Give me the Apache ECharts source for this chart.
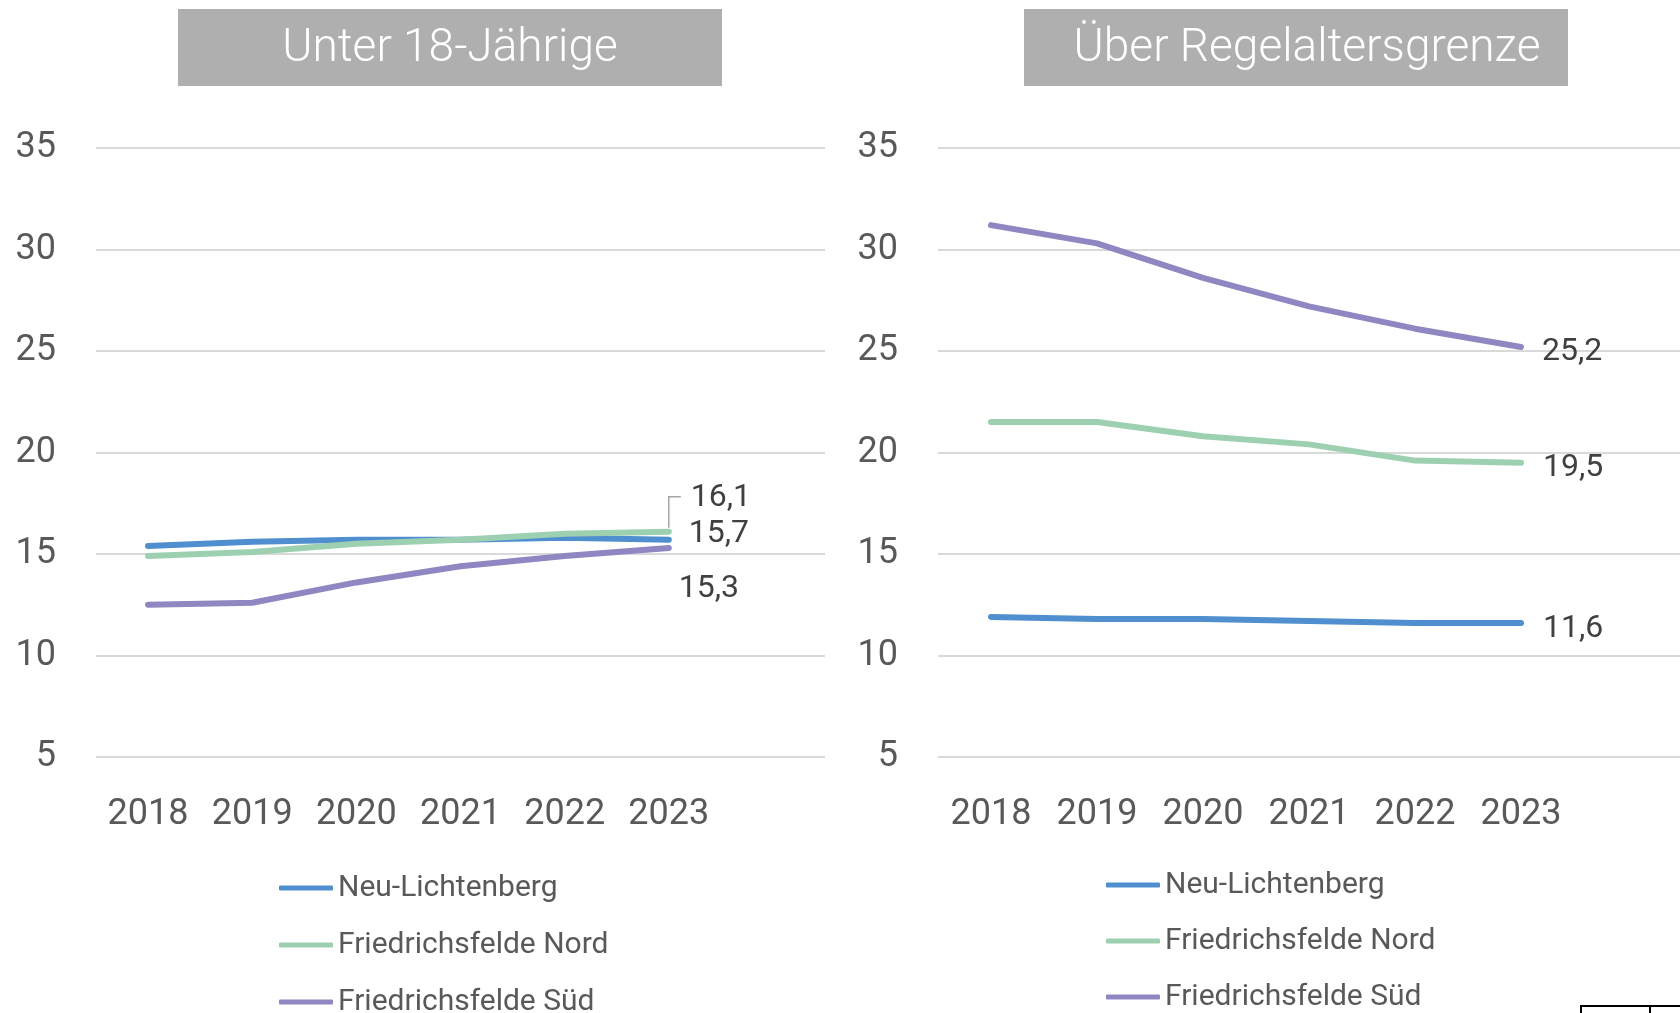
<!DOCTYPE html>
<html>
<head>
<meta charset="utf-8">
<script src="https://cdn.jsdelivr.net/npm/echarts@6/dist/echarts.min.js"></script>
<style>
  html, body { margin: 0; padding: 0; background: #fff; }
  #main { width: 1680px; height: 1013px; }
</style>
</head>
<body>
<div id="main"></div>
<script>
var years = ['2018', '2019', '2020', '2021', '2022', '2023'];
var names = ['Neu-Lichtenberg', 'Friedrichsfelde Nord', 'Friedrichsfelde Süd'];
var colors = ['#4f8fcf', '#9dd0b1', '#8f87c1'];

// Unter 18-Jährige (Anteil in %)
var u18Neu = [15.4, 15.6, 15.7, 15.7, 15.8, 15.7];
var u18Nord = [14.9, 15.1, 15.5, 15.7, 16.0, 16.1];
var u18Sued = [12.5, 12.6, 13.6, 14.4, 14.9, 15.3];

// Über Regelaltersgrenze (Anteil in %)
var aeltNeu = [11.9, 11.8, 11.8, 11.7, 11.6, 11.6];
var aeltNord = [21.5, 21.5, 20.8, 20.4, 19.6, 19.5];
var aeltSued = [31.2, 30.3, 28.6, 27.2, 26.1, 25.2];

var chart = echarts.init(document.getElementById('main'));

var FONT = 'Roboto';
var txt = '#595959';

function fmt(v) {
	return v.toFixed(1).replace('.', ',');
}

// only the last point gets a label
function withEndLabel(vals, offset) {
	var last = vals.length - 1;
	return vals.map(function (v, i) {
		if (i !== last) return v;
		return {
			value: v,
			label: {
				show: true,
				position: 'right',
				distance: 0,
				offset: offset,
				formatter: function (p) { return fmt(p.value); },
				color: '#404040',
				fontFamily: FONT,
				fontSize: 32
			}
		};
	});
}

function lineSeries(idx, name, vals, offset) {
	var c = colors[names.indexOf(name)];
	return {
		type: 'line',
		name: name,
		xAxisIndex: idx,
		yAxisIndex: idx,
		data: withEndLabel(vals, offset),
		symbol: 'circle',
		symbolSize: 0.1,
		showSymbol: true,
		lineStyle: { width: 6, color: c, cap: 'round', join: 'round' },
		itemStyle: { color: c },
		emphasis: { disabled: true },
		z: 3
	};
}

function xAx(idx) {
	return {
		type: 'category',
		gridIndex: idx,
		data: years.concat(['']),
		boundaryGap: true,
		axisLine: { show: false },
		axisTick: { show: false },
		axisLabel: { color: txt, fontFamily: FONT, fontSize: 36, margin: 40, interval: 0 }
	};
}

function yAx(idx) {
	return {
		type: 'value',
		gridIndex: idx,
		min: 5,
		max: 35,
		interval: 5,
		axisLine: { show: false },
		axisTick: { show: false },
		splitLine: { lineStyle: { color: '#d9d9d9', width: 2 } },
		axisLabel: { color: txt, fontFamily: FONT, fontSize: 36, margin: 40, padding: [6, 0, 0, 0] }
	};
}

// one legend entry per component so the list can run past the bottom edge
function legendItem(name, left, top) {
	return {
		data: [name],
		left: left,
		top: top,
		icon: 'roundRect',
		itemWidth: 54,
		itemHeight: 5,
		selectedMode: false,
		padding: 0,
		textStyle: { color: txt, fontFamily: FONT, fontSize: 30, lineHeight: 36 }
	};
}

function legends(left, top, step) {
	return names.map(function (n, i) { return legendItem(n, left, top + i * step); });
}

function titleBox(id, x, text, tx) {
	return {
		type: 'group',
		id: id,
		children: [
			{ type: 'rect', shape: { x: x, y: 9, width: 544, height: 77 }, style: { fill: '#afafaf' } },
			{ type: 'text', style: { text: text, x: tx, y: 49, align: 'center', verticalAlign: 'middle',
				fill: '#ffffff', font: '300 46px ' + FONT } }
		]
	};
}

var option = {
	animation: false,
	grid: [
		{ left: 96, top: 148, width: 729, height: 609 },
		{ left: 938, top: 148, right: 0, height: 609 }
	],
	xAxis: [xAx(0), xAx(1)],
	yAxis: [yAx(0), yAx(1)],
	legend: legends(279, 870, 57).concat(legends(1106, 867, 56)),
	series: [
		lineSeries(0, names[0], u18Neu, [20, -6]),
		lineSeries(0, names[1], u18Nord, [22, -34]),
		lineSeries(0, names[2], u18Sued, [10, 41]),
		lineSeries(1, names[0], aeltNeu, [22, 6]),
		lineSeries(1, names[1], aeltNord, [22, 5]),
		lineSeries(1, names[2], aeltSued, [21, 5])
	],
	graphic: [
		titleBox('t1', 178, 'Unter 18-Jährige', 450),
		titleBox('t2', 1024, 'Über Regelaltersgrenze', 1307),
		{
			type: 'polyline', id: 'corner',
			shape: { points: [[1581, 1013], [1581, 1006], [1680, 1006]] },
			style: { stroke: '#000', lineWidth: 2, fill: null }
		},
		{
			type: 'line', id: 'corner2',
			shape: { x1: 1650, y1: 1006, x2: 1650, y2: 1013 },
			style: { stroke: '#000', lineWidth: 2 }
		}
	]
};

chart.setOption(option);

// leader line for the shifted "16,1" label, placed through the chart's scales
var last = years.length - 1;
var p = chart.convertToPixel({ seriesIndex: 1 }, [last, u18Nord[last]]);
chart.setOption({
	graphic: [{
		type: 'polyline', id: 'leader',
		shape: { points: [[p[0], p[1] - 4], [p[0], p[1] - 35], [p[0] + 12, p[1] - 35]] },
		style: { stroke: '#a6a6a6', lineWidth: 1.5, fill: null },
		z: 5
	}]
});

window.onresize = chart.resize;
</script>
</body>
</html>
